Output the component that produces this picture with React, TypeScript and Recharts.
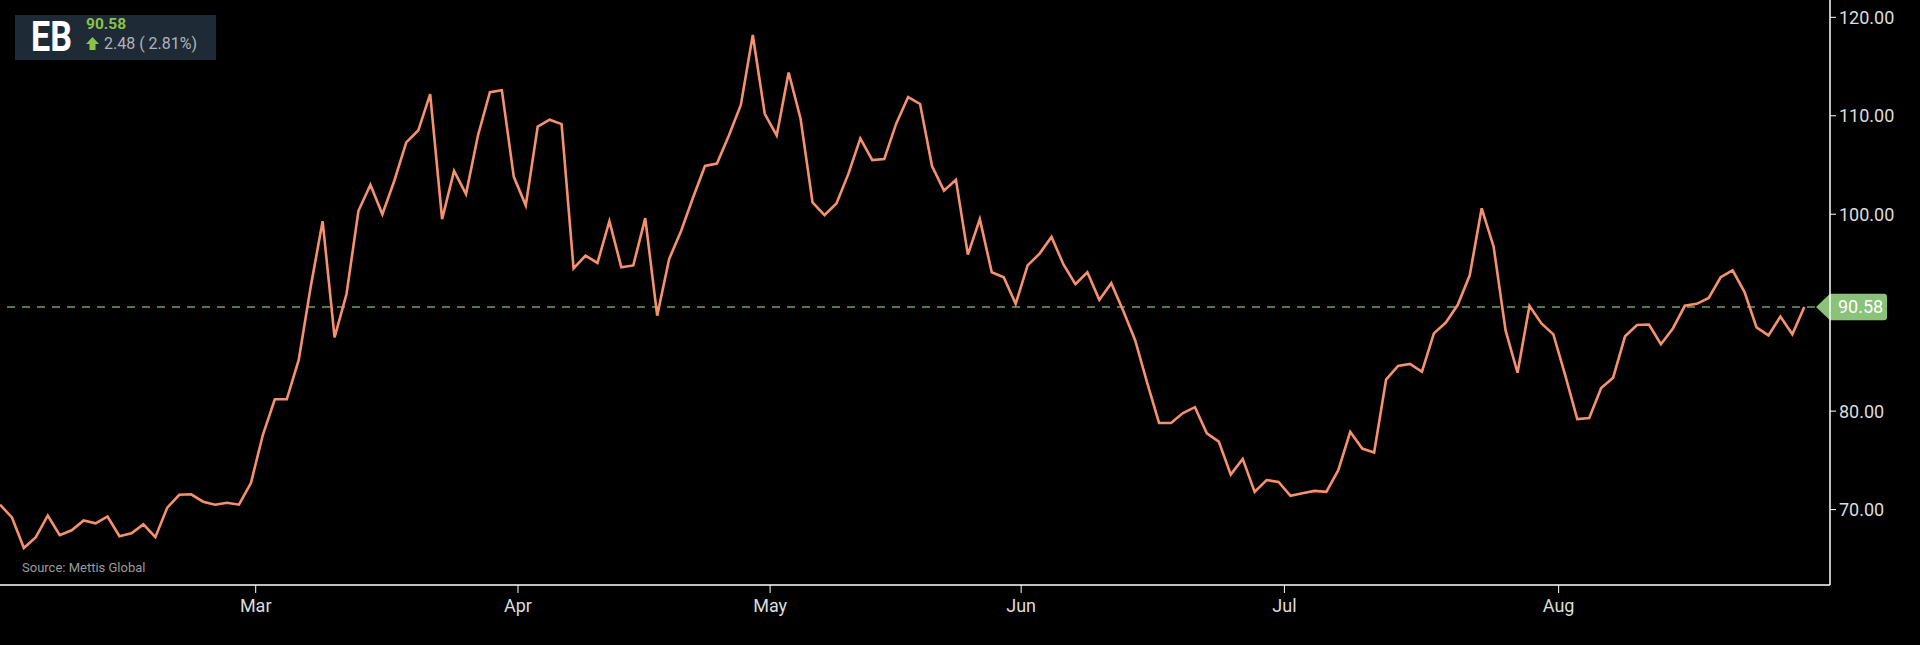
import React from "react"
import { LineChart, Line, XAxis, YAxis, ReferenceLine } from "recharts"

// daily closing prices, one per trading session
const prices = [
  70.5, 69.2, 66.1, 67.2, 69.4, 67.4, 67.9, 68.9, 68.6, 69.3,
  67.3, 67.6, 68.5, 67.2, 70.2, 71.5, 71.55, 70.8, 70.5, 70.7,
  70.5, 72.7, 77.6, 81.2, 81.2, 85.2, 92.6, 99.3, 87.5, 91.9,
  100.35, 103.0, 100.0, 103.4, 107.3, 108.5, 112.2, 99.5, 104.4, 102.05,
  108.0, 112.4, 112.6, 103.8, 100.9, 108.9, 109.6, 109.15, 94.5, 95.8,
  95.05, 99.3, 94.6, 94.8, 99.6, 89.7, 95.45, 98.3, 101.7, 104.9,
  105.15, 108.0, 111.1, 118.2, 110.2, 108.0, 114.4, 109.7, 101.2, 99.9,
  101.1, 104.1, 107.7, 105.5, 105.6, 109.2, 111.9, 111.2, 104.9, 102.4,
  103.5, 95.9, 99.5, 94.1, 93.6, 90.9, 94.8, 96.0, 97.7, 94.9,
  92.9, 94.1, 91.3, 93.0, 90.2, 87.2, 82.9, 78.8, 78.8, 79.8,
  80.4, 77.75, 76.9, 73.55, 75.15, 71.8, 73.0, 72.8, 71.4, 71.65,
  71.9, 71.8, 74.0, 77.9, 76.2, 75.8, 83.2, 84.6, 84.8, 84.0,
  87.9, 89.0, 90.8, 93.8, 100.6, 96.7, 88.2, 83.9, 90.7, 88.9,
  87.8, 83.6, 79.2, 79.3, 82.35, 83.4, 87.6, 88.75, 88.8, 86.8,
  88.4, 90.7, 90.9, 91.5, 93.6, 94.3, 92.1, 88.5, 87.7, 89.6,
  87.8, 90.58,
]

const monthLabels = ["Mar", "Apr", "May", "Jun", "Jul", "Aug"]
// where each month starts, measured in trading-session positions
const monthTicks = [21.4, 43.35, 64.45, 85.46, 107.49, 130.44]

const priceTicks = [70, 80, 100, 110, 120]
const lastPrice = 90.58
const change = "2.48 ( 2.81%)"
const symbol = "EB"

const data = prices.map((v, i) => ({ i, v }))

const PriceBadge = (props: any) => {
  const vb = props.viewBox || {}
  const right = vb.x + vb.width
  const cy = vb.y
  const h = 13.3
  const w = 57
  const r = 3
  const d = `M${right - 14},${cy} L${right},${cy - h} L${right + w - r},${cy - h} Q${right + w},${cy - h} ${right + w},${cy - h + r} L${right + w},${cy + h - r} Q${right + w},${cy + h} ${right + w - r},${cy + h} L${right},${cy + h} Z`
  return (
    <g>
      <path d={d} fill="#89c278" />
      <text x={right + 8} y={cy} dy="0.36em" fill="#ffffff" fontSize={18} fontFamily="Roboto">
        {lastPrice.toFixed(2)}
      </text>
    </g>
  )
}

export default function App() {
  return (
    <div style={{ position: "absolute", left: 0, top: 0, width: 1920, height: 645, background: "#000" }}>
      <LineChart
        width={1920}
        height={645}
        data={data}
        margin={{ top: 0, right: 0, bottom: 0, left: 0 }}
        style={{ fontFamily: "Roboto" }}
      >
        <XAxis
          dataKey="i"
          type="number"
          domain={[0, 153.15]}
          ticks={monthTicks}
          tickFormatter={(v: number) => monthLabels[monthTicks.indexOf(v)]}
          height={60}
          allowDataOverflow
          axisLine={{ stroke: "#ffffff", strokeWidth: 1.5 }}
          tickLine={{ stroke: "#ffffff" }}
          tickSize={8}
          tickMargin={6}
          tick={{ fill: "#dddddd", fontSize: 18, fontFamily: "Roboto" }}
        />
        <YAxis
          orientation="right"
          width={90}
          domain={[62.34, 121.76]}
          ticks={priceTicks}
          allowDataOverflow
          tickFormatter={(v: number) => v.toFixed(2)}
          axisLine={{ stroke: "#ffffff", strokeWidth: 1.5 }}
          tickLine={{ stroke: "#ffffff" }}
          tickSize={6}
          tickMargin={3}
          tick={{ fill: "#dddddd", fontSize: 18, fontFamily: "Roboto", textAnchor: "start" }}
        />
        <ReferenceLine
          y={lastPrice}
          stroke="#6ea35c"
          strokeWidth={1.4}
          strokeDasharray="8 7"
          label={<PriceBadge />}
        />
        <Line
          type="linear"
          dataKey="v"
          stroke="#f6916f"
          strokeWidth={2.6}
          dot={false}
          activeDot={false}
          isAnimationActive={false}
        />
      </LineChart>

      {/* ticker box, top left */}
      <svg
        width={260}
        height={80}
        style={{ position: "absolute", left: 0, top: 0, overflow: "visible" }}
      >
        <rect x={15} y={15} width={201} height={45} fill="#1e2a35" />
        <text
          x={31}
          y={50.7}
          fill="#ffffff"
          fontSize={42}
          fontWeight="bold"
          fontFamily="Roboto"
          textLength={41}
          lengthAdjust="spacingAndGlyphs"
        >
          {symbol}
        </text>
        <text x={86} y={29.3} fill="#8bc34a" fontSize={15.5} fontWeight="bold" fontFamily="Roboto">
          {lastPrice.toFixed(2)}
        </text>
        <path d="M92.5,37 L99,44 L95.5,44 L95.5,50 L89.5,50 L89.5,44 L86,44 Z" fill="#8bc34a" />
        <text x={104} y={49.3} fill="#b0b5ba" fontSize={16} fontFamily="Roboto">
          {change}
        </text>
      </svg>

      <div
        style={{
          position: "absolute",
          left: 22,
          top: 560,
          fontFamily: "Roboto",
          fontSize: 13,
          color: "#9c9c9c",
        }}
      >
        Source: Mettis Global
      </div>
    </div>
  )
}
